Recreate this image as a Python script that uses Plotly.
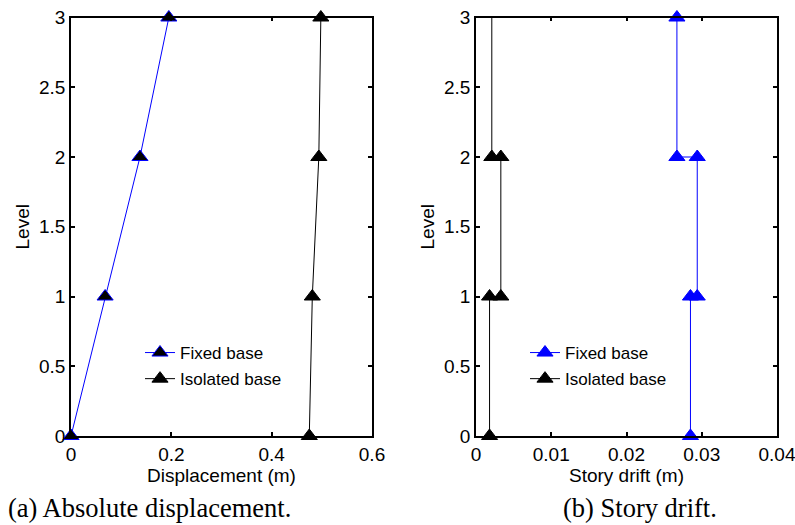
import plotly.graph_objects as go

# ---- data ----
levels = [0, 1, 2, 3]
fixed_disp = [0.0, 0.068, 0.1375, 0.195]
iso_disp = [0.475, 0.481, 0.494, 0.498]

stories = [1, 2, 3]
fixed_drift = [0.0285, 0.0294, 0.0267]
iso_drift = [0.0018, 0.0033, 0.0021]

xticks_a = [0, 0.2, 0.4, 0.6]
xticks_b = [0, 0.01, 0.02, 0.03, 0.04]
yticks = [0, 0.5, 1, 1.5, 2, 2.5, 3]

BLUE = "#0000FF"
FONT = "Liberation Sans, Arial, sans-serif"
SERIF = "Liberation Serif, Times New Roman, serif"
MS = 14
AX_FS = 19
LEG_FS = 17

# body margin is removed by the post script, so figure pixels = window pixels
W, H = 795, 525


def px(x):
    return x / W


def py(y):
    return 1 - y / H


def steps(drifts):
    xs, ys = [], []
    for s, d in zip(stories, drifts):
        xs += [d, d]
        ys += [s - 1, s]
    return xs, ys


fig = go.Figure()

# (a) displacement
fig.add_trace(go.Scatter(x=fixed_disp, y=levels, mode="lines+markers", name="Fixed base",
                         line=dict(color=BLUE, width=1),
                         marker=dict(symbol="triangle-up", size=MS, color="black",
                                     line=dict(color=BLUE, width=1)),
                         cliponaxis=False, xaxis="x", yaxis="y", legend="legend",
                         legendgroup="a1"))
fig.add_trace(go.Scatter(x=iso_disp, y=levels, mode="lines+markers", name="Isolated base",
                         line=dict(color="black", width=1),
                         marker=dict(symbol="triangle-up", size=MS, color="black",
                                     line=dict(color="black", width=1)),
                         cliponaxis=False, xaxis="x", yaxis="y", legend="legend",
                         legendgroup="a2"))

# (b) story drift
fx, fy = steps(fixed_drift)
ix, iy = steps(iso_drift)
fig.add_trace(go.Scatter(x=fx, y=fy, mode="lines+markers", name="Fixed base",
                         line=dict(color=BLUE, width=1),
                         marker=dict(symbol="triangle-up", size=MS, color=BLUE,
                                     line=dict(color=BLUE, width=1)),
                         cliponaxis=False, xaxis="x2", yaxis="y2", legend="legend2",
                         legendgroup="b1"))
fig.add_trace(go.Scatter(x=ix[:-1], y=iy[:-1], mode="lines+markers", name="Isolated base",
                         line=dict(color="black", width=1),
                         marker=dict(symbol="triangle-up", size=MS, color="black",
                                     line=dict(color="black", width=1)),
                         cliponaxis=False, xaxis="x2", yaxis="y2", legend="legend2",
                         legendgroup="b2"))
# top storey segment of the isolated-base drift (no marker at its top in the reference)
fig.add_trace(go.Scatter(x=ix[-2:], y=iy[-2:], mode="lines", name="Isolated base",
                         line=dict(color="black", width=1), showlegend=False,
                         cliponaxis=False, xaxis="x2", yaxis="y2", legendgroup="b2"))

ydom = [py(436), py(17.5)]

axis_common = dict(showline=True, linecolor="black", linewidth=1.5, mirror="ticks",
                   ticks="inside", ticklen=4, tickwidth=1.5, tickcolor="black",
                   showgrid=False, zeroline=False, automargin=False,
                   ticklabeloverflow="allow",
                   tickfont=dict(family=FONT, size=AX_FS, color="black"))
tfont = dict(family=FONT, size=AX_FS, color="black")

fig.update_layout(
    width=W, height=H,
    margin=dict(l=0, r=0, t=0, b=0),
    paper_bgcolor="white", plot_bgcolor="white",
    font=dict(family=FONT, size=AX_FS, color="black"),
    xaxis=dict(domain=[px(71), px(372)], range=[0, 0.6], tickvals=xticks_a,
               anchor="y", title=dict(text="Displacement (m)", standoff=4, font=tfont),
               **axis_common),
    yaxis=dict(domain=ydom, range=[0, 3], tickvals=yticks, anchor="x",
               title=dict(text="Level", standoff=4, font=tfont), **axis_common),
    xaxis2=dict(domain=[px(476), px(777)], range=[0, 0.04], tickvals=xticks_b,
                anchor="y2", title=dict(text="Story drift (m)", standoff=4, font=tfont),
                **axis_common),
    yaxis2=dict(domain=ydom, range=[0, 3], tickvals=yticks, anchor="x2",
                title=dict(text="Level", standoff=4, font=tfont), **axis_common),
    legend=dict(x=px(140), y=py(335), xanchor="left", yanchor="top",
                bgcolor="rgba(0,0,0,0)", borderwidth=0, tracegroupgap=1,
                font=dict(family=FONT, size=LEG_FS, color="black")),
    legend2=dict(x=px(525), y=py(335), xanchor="left", yanchor="top",
                 bgcolor="rgba(0,0,0,0)", borderwidth=0, tracegroupgap=1,
                 font=dict(family=FONT, size=LEG_FS, color="black")),
    showlegend=True,
    hovermode=False,
    annotations=[
        dict(text="(a) Absolute displacement.", x=px(6), y=py(508), xref="paper",
             yref="paper", xanchor="left", yanchor="middle", showarrow=False,
             font=dict(family=SERIF, size=26.5, color="black")),
        dict(text="(b) Story drift.", x=px(561), y=py(508), xref="paper",
             yref="paper", xanchor="left", yanchor="middle", showarrow=False,
             font=dict(family=SERIF, size=26.5, color="black")),
    ],
)

fig.write_html(
    "out.html",
    config={"displayModeBar": False},
    post_script="document.body.style.margin='0';document.body.style.overflow='hidden';",
)
